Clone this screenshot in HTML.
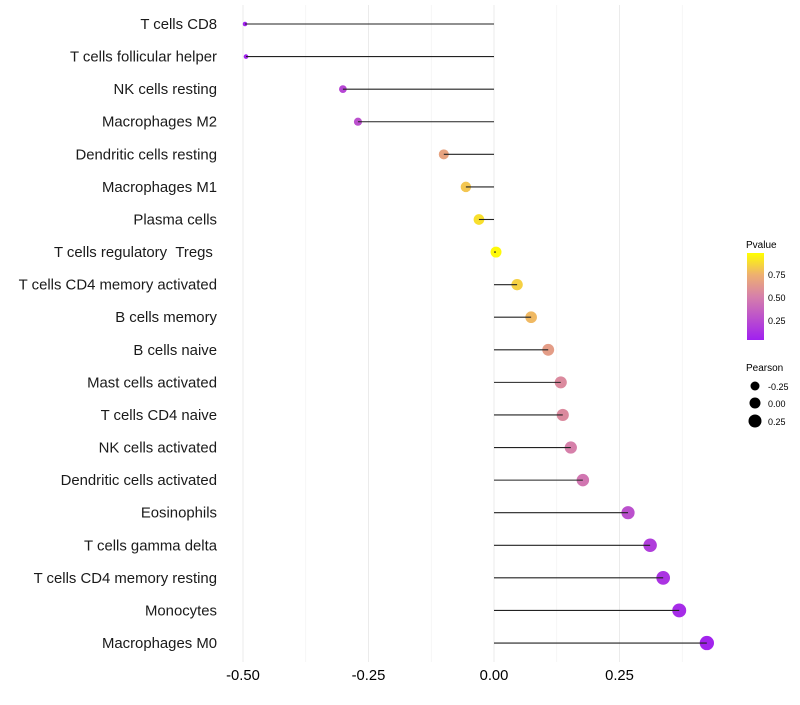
<!DOCTYPE html>
<html><head><meta charset="utf-8"><style>
body{margin:0;background:#fff;font-family:"Liberation Sans",sans-serif}
svg text{font-family:"Liberation Sans",sans-serif}
</style></head><body>
<svg id="chart" width="800" height="700" xmlns="http://www.w3.org/2000/svg">
<g id="grid"></g>
<g id="marks"></g>
<g id="ylabels"></g>
<g id="xlabels"></g>
</svg>
<script>
const categories=["T cells CD8","T cells follicular helper","NK cells resting","Macrophages M2","Dendritic cells resting","Macrophages M1","Plasma cells","T cells regulatory\u00a0\u00a0Tregs\u00a0","T cells CD4 memory activated","B cells memory","B cells naive","Mast cells activated","T cells CD4 naive","NK cells activated","Dendritic cells activated","Eosinophils","T cells gamma delta","T cells CD4 memory resting","Monocytes","Macrophages M0"];
const pearson=[-0.496,-0.494,-0.301,-0.271,-0.100,-0.056,-0.030,0.004,0.046,0.074,0.108,0.133,0.137,0.153,0.177,0.267,0.311,0.337,0.369,0.424];
const pvalue=[0.01,0.01,0.2,0.25,0.68,0.82,0.9,0.98,0.85,0.78,0.65,0.55,0.55,0.5,0.45,0.25,0.15,0.1,0.06,0.02];
const xTicks=[-0.5,-0.25,0,0.25];
const xTickLabels=["-0.50","-0.25","0.00","0.25"];
const NS="http://www.w3.org/2000/svg";
const x=v=>494+v*502;
const y=i=>24+i*32.58;
const r=v=>Math.sqrt(5+50*Math.max(0,v+0.5));
function col(p){
 const st=[[0,[160,32,240]],[0.5,[214,128,170]],[0.75,[238,176,112]],[1,[255,255,0]]];
 for(let k=1;k<st.length;k++){if(p<=st[k][0]){const a=st[k-1],b=st[k],t=(p-a[0])/(b[0]-a[0]);
  return "rgb("+a[1].map((c,j)=>Math.round(c+(b[1][j]-c)*t)).join(",")+")";}}
 return "rgb(255,255,0)";
}
function mk(tag,attrs,parent){const e=document.createElementNS(NS,tag);for(const k in attrs)e.setAttribute(k,attrs[k]);document.getElementById(parent).appendChild(e);return e;}
[-0.375,-0.125,0.125,0.375].forEach(v=>{const l=mk("line",{x1:x(v),x2:x(v),y1:5,y2:662,stroke:"#f0f0f0","stroke-width":0.6},"grid");

});
xTicks.forEach((v,i)=>{const l=mk("line",{x1:x(v),x2:x(v),y1:5,y2:662,stroke:"#ebebeb","stroke-width":1},"grid");


const t=mk("text",{x:x(v),y:680,"text-anchor":"middle","font-size":14.8,fill:"#000"},"xlabels");t.textContent=xTickLabels[i];

});
categories.forEach((c,i)=>{
 const cc=mk("circle",{cx:x(pearson[i]),cy:y(i),r:r(pearson[i]),fill:col(pvalue[i])},"marks");
 
 
 const s=mk("line",{x1:x(0),x2:x(pearson[i]),y1:y(i),y2:y(i),stroke:"#222","stroke-width":1.1},"marks");
 
 
 const t=mk("text",{x:217,y:y(i)+5,"text-anchor":"end","font-size":14.9,fill:"#1a1a1a"},"ylabels");t.textContent=c;
 
 
});
</script>
<svg style="position:absolute;left:0;top:0" width="800" height="700" xmlns="http://www.w3.org/2000/svg">
<defs><linearGradient id="pg" x1="0" y1="1" x2="0" y2="0">
<stop offset="0" stop-color="#a020f0"/><stop offset="0.5" stop-color="#d680aa"/><stop offset="0.75" stop-color="#eeb070"/><stop offset="1" stop-color="#ffff00"/></linearGradient></defs>
<text x="746" y="248" font-size="10">Pvalue</text>
<rect x="747" y="253" width="17" height="87" fill="url(#pg)"/>
<text x="768" y="278" font-size="9">0.75</text>
<text x="768" y="301" font-size="9">0.50</text>
<text x="768" y="324" font-size="9">0.25</text>
<text x="746" y="371" font-size="10">Pearson</text>
<circle cx="755" cy="386" r="4.5" fill="#000"/>
<circle cx="755" cy="403" r="5.5" fill="#000"/>
<circle cx="755" cy="421" r="6.5" fill="#000"/>
<text x="768" y="390" font-size="9">-0.25</text>
<text x="768" y="407" font-size="9">0.00</text>
<text x="768" y="425" font-size="9">0.25</text>
</svg>
</body></html>
